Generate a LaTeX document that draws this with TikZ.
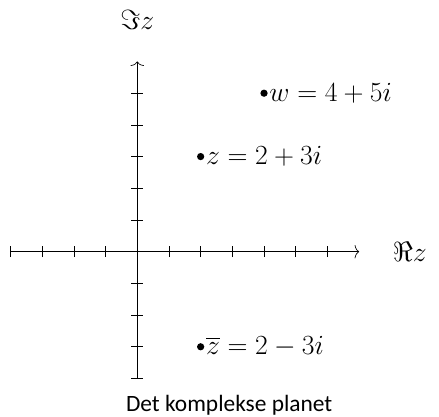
\documentclass[tikz,border=0pt]{standalone}
\usepackage{amsmath}
\usepackage[no-math]{fontspec}
\newfontfamily\capfont{Carlito}
\usetikzlibrary{positioning,arrows.meta}

\begin{document}
\begin{tikzpicture}[x=1cm,y=1cm,line width=.6pt,font=\fontsize{23}{28}\selectfont,
  dot/.style={circle,fill,inner sep=0pt,minimum size=6.5pt},
  lab/.style={inner sep=1pt,right=0pt of #1}]
\useasboundingbox (-4.33,-5.21) rectangle (9.52,7.94);
% axes
\coordinate (xa) at (-4,0);\coordinate (xb) at (7,0);
\coordinate (ya) at (0,-4);\coordinate (yb) at (0,6);
\draw[-{To[length=4pt,width=12pt]}] (xa)--(xb);
\draw[-{To[length=4pt,width=12pt]}] (ya)--(yb);
\foreach \i in {-4,-3,-2,-1,1,2,3,4,5,6} \draw (\i,-.17)--(\i,.17);
\foreach \j in {-4,-3,-2,-1,1,2,3,4,5} \draw (-.19,\j)--(.19,\j);
\node (re) at (8.6,0) {$\Re z$};
\node (im) at (0,7.3) {$\Im z$};
% points
\node[dot] (w) at (4,5) {};\node[lab=w] (wl) {$w=4+5i$};
\node[dot] (z) at (2,3) {};\node[lab=z] (zl) {$z=2+3i$};
\node[dot] (zb) at (2,-3) {};\node[lab=zb] (zbl) {$\overline{z}=2-3i$};
\node[font=\capfont\fontsize{21}{25}\selectfont] (cap) at (2.9,-4.84) {Det komplekse planet};
\end{tikzpicture}
\end{document}
